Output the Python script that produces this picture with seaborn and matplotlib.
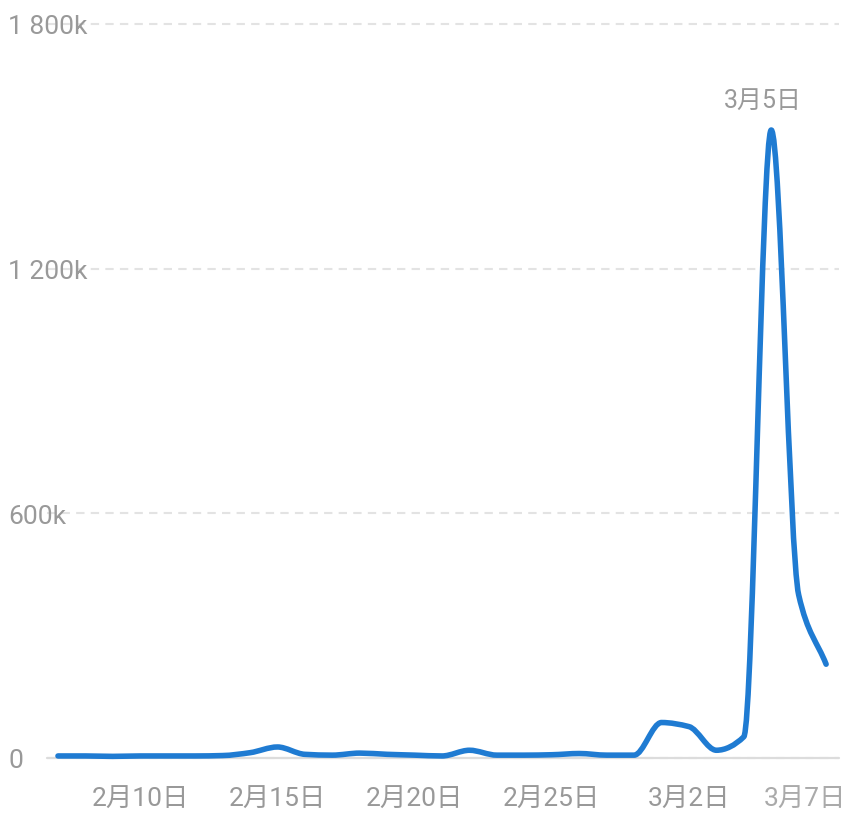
import numpy as np
import pandas as pd
import matplotlib.pyplot as plt
import matplotlib.dates as mdates
from matplotlib.path import Path
from matplotlib.patches import PathPatch
from matplotlib.transforms import ScaledTranslation
import seaborn as sns

# --- data (thousands) ---
dates = pd.date_range('2023-02-07', '2023-03-07', freq='D')
views_k = [5, 5, 4, 5, 5, 5, 6, 13, 27, 9, 7, 12, 9, 7, 5, 19, 7, 7, 8, 11, 7, 7,
           87, 77, 19, 52, 1540, 400, 230]
tick_dates = ['2023-02-10', '2023-02-15', '2023-02-20', '2023-02-25', '2023-03-02', '2023-03-07']
tick_labels = ['2月10日', '2月15日', '2月20日', '2月25日', '3月2日', '3月7日']
y_ticks = [0, 600, 1200, 1800]
y_labels = ['0', '600k', '1 200k', '1 800k']
peak_label = '3月5日'

LINE_COLOR = '#1f7bd2'
TEXT_COLOR = '#999999'


def monotone_path(x, y):
    # monotone cubic (Fritsch-Carlson) drawn as bezier segments
    x = np.asarray(x, float)
    y = np.asarray(y, float)
    h = np.diff(x)
    d = np.diff(y) / h
    m = np.zeros_like(y)
    m[0], m[-1] = d[0], d[-1]
    for i in range(1, len(y) - 1):
        if d[i - 1] * d[i] > 0:
            m[i] = 2 / (1 / d[i - 1] + 1 / d[i])
    verts = [(x[0], y[0])]
    codes = [Path.MOVETO]
    for i in range(len(h)):
        verts += [(x[i] + h[i] / 3, y[i] + m[i] * h[i] / 3),
                  (x[i + 1] - h[i] / 3, y[i + 1] - m[i + 1] * h[i] / 3),
                  (x[i + 1], y[i + 1])]
        codes += [Path.CURVE4] * 3
    return Path(verts, codes)


sns.set_theme(style='white')
plt.rcParams['font.family'] = ['Roboto', 'Noto Sans CJK SC', 'DejaVu Sans']

fig = plt.figure(figsize=(8.61, 8.28), dpi=100)
ax = fig.add_axes([47 / 861, (828 - 759) / 828, (839 - 47) / 861, (759 - 25) / 828])

xs = mdates.date2num(dates)
path = monotone_path(xs, views_k)
ax.add_patch(PathPatch(path, facecolor='none', edgecolor=LINE_COLOR, lw=4.0,
                       capstyle='round', joinstyle='round', zorder=4, clip_on=False))

ax.set_xlim(xs[0] - 0.4, xs[-1] + 0.47)
ax.set_ylim(0, 1800)

# y axis labels inside the left margin
ax.set_yticks(y_ticks, y_labels)
ax.tick_params(axis='y', length=0, pad=28, labelsize=19, labelcolor=TEXT_COLOR)
for lab in ax.get_yticklabels():
    lab.set_horizontalalignment('left')

ax.set_xticks(mdates.date2num(pd.to_datetime(tick_dates)), tick_labels)
ax.tick_params(axis='x', length=0, pad=20.5, labelsize=19, labelcolor=TEXT_COLOR)
last = ax.get_xticklabels()[-1]
last.set_transform(last.get_transform() + ScaledTranslation(-0.21, 0, fig.dpi_scale_trans))
last.set_color('#aaaaaa')

ax.yaxis.grid(True, color='#e3e3e3', linestyle=(0, (4, 3)), linewidth=1.5)
for gl in ax.get_ygridlines():
    gl.set_clip_on(False)
ax.xaxis.grid(False)
ax.axhline(0, color='#dcdcdc', lw=1.6, zorder=3, clip_on=False)
sns.despine(ax=ax, left=True, bottom=True)

ipeak = int(np.argmax(views_k))
ax.annotate(peak_label, (xs[ipeak], views_k[ipeak]), xytext=(-6, 22),
            textcoords='offset points', ha='center', va='center',
            fontsize=18, color=TEXT_COLOR)

fig.savefig('out.png', dpi=100)
